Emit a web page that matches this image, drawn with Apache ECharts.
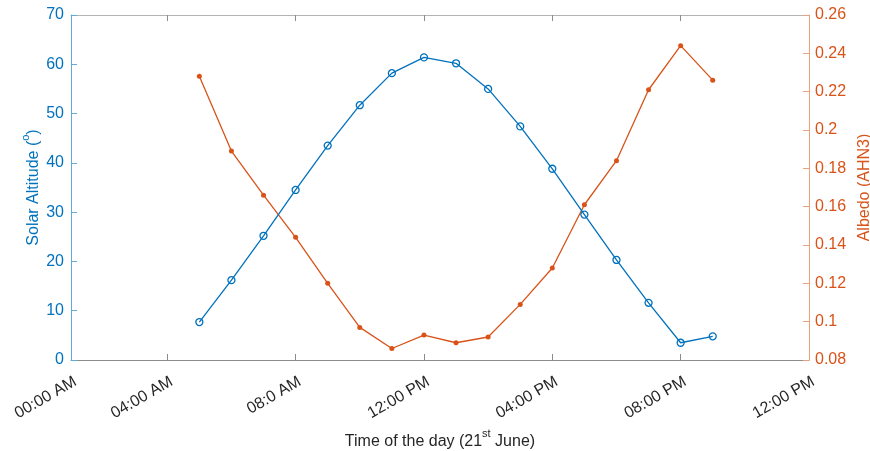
<!DOCTYPE html>
<html>
<head>
<meta charset="utf-8">
<script src="https://cdn.jsdelivr.net/npm/echarts@6/dist/echarts.min.js"></script>
<style>
  html, body { margin: 0; padding: 0; background: #fff; }
  #chart { width: 870px; height: 451px; }
</style>
</head>
<body>
<div id="chart"></div>
<script>
// Hour of day for each measurement (21 June)
const hours = [5, 6, 7, 8, 9, 10, 11, 12, 13, 14, 15, 16, 17, 18, 19, 20, 21];
// Solar altitude in degrees
const solarAltitude = [7.7, 16.2, 25.2, 34.5, 43.5, 51.7, 58.2, 61.4, 60.2, 55.0, 47.4, 38.8, 29.5, 20.3, 11.6, 3.5, 4.8];
// Albedo derived from AHN3
const albedo = [0.228, 0.189, 0.166, 0.144, 0.120, 0.097, 0.086, 0.093, 0.089, 0.092, 0.109, 0.128, 0.161, 0.184, 0.221, 0.244, 0.226];
// Time-axis tick positions and their labels
const tickHours = [1, 4, 8, 12, 16, 20, 24];
const tickLabels = ['00:00 AM', '04:00 AM', '08:0 AM', '12:00 PM', '04:00 PM', '08:00 PM', '12:00 PM'];

const BLUE = '#0072BD';
const ORANGE = '#D95319';
const FONT = '"Liberation Sans", Arial, Helvetica, sans-serif';

const chart = echarts.init(document.getElementById('chart'), null, { renderer: 'canvas' });

const labelFor = v => {
  const i = tickHours.indexOf(v);
  return i >= 0 ? tickLabels[i] : '';
};

// rich-text styles for axis names with a superscript part
const nameRich = color => ({
  n: { fontSize: 16, lineHeight: 22, verticalAlign: 'bottom', color: color, fontFamily: FONT },
  sup: { fontSize: 11, lineHeight: 12, verticalAlign: 'top', color: color, fontFamily: FONT }
});

const option = {
  animation: false,
  backgroundColor: '#fff',
  textStyle: { fontFamily: FONT },
  grid: { left: 71, right: 61, top: 15, bottom: 91, containLabel: false, outerBoundsMode: 'none' },
  xAxis: [
    {
      type: 'value',
      position: 'bottom',
      min: 1,
      max: 24,
      splitLine: { show: false },
      axisLine: { show: true, lineStyle: { color: '#8c8c8c', width: 1 } },
      axisTick: { show: true, inside: true, length: 6, customValues: tickHours.slice(1, -1), lineStyle: { color: '#8c8c8c' } },
      axisLabel: {
        show: true,
        customValues: tickHours,
        formatter: labelFor,
        rotate: 30,
        margin: 23,
        padding: [0, -5, 0, 0],
        color: '#262626',
        fontSize: 16,
        fontFamily: FONT
      },
      name: '{n|Time of the day (21}{sup|st}{n| June)}',
      nameLocation: 'middle',
      nameGap: 68,
      nameMoveOverlap: false,
      nameTextStyle: { rich: nameRich('#262626') }
    },
    {
      type: 'value',
      position: 'top',
      min: 1,
      max: 24,
      splitLine: { show: false },
      axisLine: { show: true, lineStyle: { color: '#b4b4b4', width: 1 } },
      axisTick: { show: true, inside: true, length: 6, customValues: tickHours.slice(1, -1), lineStyle: { color: '#8c8c8c' } },
      axisLabel: { show: false }
    }
  ],
  yAxis: [
    {
      type: 'value',
      position: 'left',
      min: 0,
      max: 70,
      interval: 10,
      splitLine: { show: false },
      axisLine: { show: true, lineStyle: { color: '#62abdd', width: 1 } },
      axisTick: { show: true, inside: true, length: 6, lineStyle: { color: '#62abdd' } },
      axisLabel: { color: BLUE, fontSize: 16, margin: 7, fontFamily: FONT },
      name: '{n|Solar Altitude (}{sup|o}{n|)}',
      nameLocation: 'middle',
      nameGap: 29,
      nameRotate: 90,
      nameMoveOverlap: false,
      nameTextStyle: { rich: nameRich(BLUE) }
    },
    {
      type: 'value',
      position: 'right',
      min: 0.08,
      max: 0.26,
      interval: 0.02,
      splitLine: { show: false },
      axisLine: { show: true, lineStyle: { color: '#eba07e', width: 1 } },
      axisTick: { show: true, inside: true, length: 6, lineStyle: { color: '#eba07e' } },
      axisLabel: {
        color: ORANGE,
        fontSize: 16,
        margin: 6,
        fontFamily: FONT,
        formatter: v => String(Number(v.toFixed(2)))
      },
      name: 'Albedo (AHN3)',
      nameLocation: 'middle',
      nameGap: 48,
      nameRotate: 90,
      nameMoveOverlap: false,
      nameTextStyle: { color: ORANGE, fontSize: 16, fontFamily: FONT }
    }
  ],
  series: [
    {
      name: 'Solar Altitude',
      type: 'line',
      xAxisIndex: 0,
      yAxisIndex: 0,
      data: hours.map((h, i) => [h, solarAltitude[i]]),
      color: BLUE,
      symbol: 'circle',
      symbolSize: 7,
      itemStyle: { color: 'rgba(255,255,255,0)', borderColor: BLUE, borderWidth: 1.3 },
      lineStyle: { color: BLUE, width: 1.3 },
      z: 3
    },
    {
      name: 'Albedo (AHN3)',
      type: 'line',
      xAxisIndex: 0,
      yAxisIndex: 1,
      data: hours.map((h, i) => [h, albedo[i]]),
      color: ORANGE,
      symbol: 'circle',
      symbolSize: 5,
      itemStyle: { color: ORANGE, borderWidth: 0 },
      lineStyle: { color: ORANGE, width: 1.3 },
      z: 2
    }
  ]
};

chart.setOption(option);
</script>
</body>
</html>
